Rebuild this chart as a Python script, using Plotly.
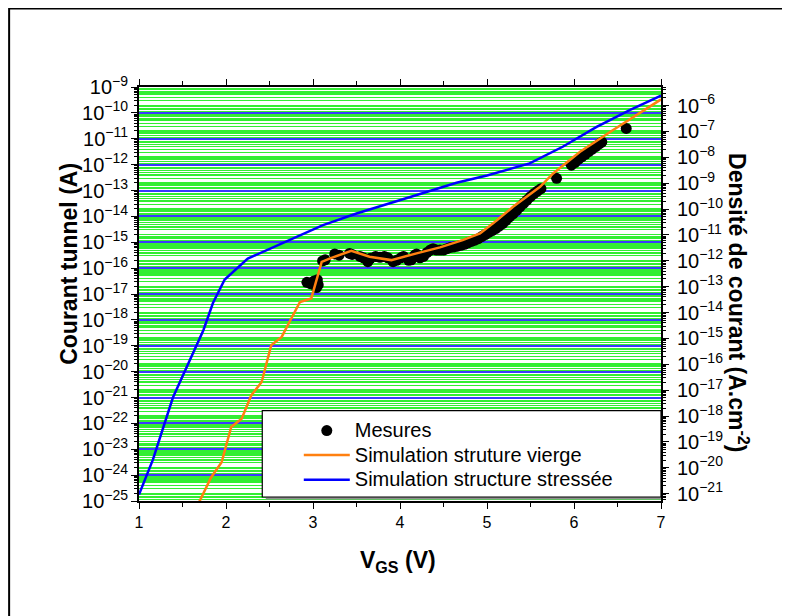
import plotly.graph_objects as go

# ---------------- data (log10 of current in A) ----------------
meas_v = [2.93, 2.97, 3.01, 3.04, 3.05, 3.06,
          3.11, 3.14, 3.25, 3.30, 3.42, 3.45, 3.54, 3.58, 3.63, 3.66, 3.72, 3.77,
          3.82, 3.86, 3.92, 3.96, 4.01, 4.04, 4.10, 4.13, 4.17, 4.19, 4.23, 4.27,
          4.31, 4.35, 4.38, 4.42, 4.46, 4.50, 4.54, 4.58, 4.62, 4.66, 4.70, 4.74,
          4.78, 4.82, 4.86, 4.90, 4.94, 4.98, 5.02, 5.06, 5.10, 5.14, 5.18, 5.22,
          5.26, 5.30, 5.34, 5.38, 5.42, 5.46, 5.50, 5.54, 5.58, 5.62,
          5.80, 5.97, 6.01, 6.05, 6.09, 6.13, 6.17, 6.21, 6.25, 6.29, 6.32, 6.60]
meas_log = [-16.55, -16.60, -16.50, -16.75, -16.45, -16.65,
            -15.72, -15.68, -15.45, -15.50, -15.43, -15.47, -15.55, -15.60, -15.75, -15.62, -15.55, -15.58,
            -15.55, -15.60, -15.75, -15.70, -15.60, -15.55, -15.70, -15.68, -15.50, -15.45, -15.60, -15.55,
            -15.40, -15.30, -15.25, -15.30, -15.30, -15.30, -15.25, -15.20, -15.18, -15.15, -15.12, -15.08,
            -15.02, -14.97, -14.92, -14.86, -14.78, -14.70, -14.62, -14.55, -14.47, -14.38, -14.28, -14.15,
            -14.02, -13.90, -13.77, -13.63, -13.50, -13.37, -13.24, -13.12, -13.02, -12.93,
            -12.53, -12.02, -11.92, -11.80, -11.70, -11.60, -11.50, -11.40, -11.30, -11.20, -11.13, -10.60]

vierge_v = [1.66, 1.83, 1.95, 2.06, 2.18, 2.29, 2.41, 2.52, 2.64, 2.85, 2.98, 3.10, 3.19,
            3.31, 3.44, 3.65, 3.90, 4.19, 4.46, 4.72, 4.92, 5.07, 5.24, 5.30, 5.61, 5.76,
            6.07, 6.45, 7.00]
vierge_log = [-25.26, -24.08, -23.50, -22.14, -21.82, -20.92, -20.40, -18.98, -18.66, -17.31,
              -17.17, -15.76, -15.63, -15.50, -15.33, -15.56, -15.69, -15.43, -15.20, -14.92,
              -14.66, -14.27, -13.79, -13.63, -12.86, -12.34, -11.50, -10.66, -9.48]

stress_v = [1.00, 1.16, 1.39, 1.58, 1.74, 1.85, 1.985, 2.25, 2.73, 3.115, 3.50, 3.88, 4.26,
            4.65, 5.00, 5.24, 5.49, 5.87, 6.26, 6.64, 7.00]
stress_log = [-24.75, -23.40, -21.00, -19.60, -18.40, -17.35, -16.44, -15.63, -14.92, -14.34,
              -13.89, -13.50, -13.11, -12.70, -12.42, -12.20, -11.95, -11.31, -10.54, -9.89, -9.33]

x_ticks = [1, 2, 3, 4, 5, 6, 7]
y_range_log = [-25, -9]
density_offset = 3.717  # log10 ratio between current density (A.cm-2) and current (A)

meas_i = [10 ** v for v in meas_log]
vierge_i = [10 ** v for v in vierge_log]
stress_i = [10 ** v for v in stress_log]
stress_density = [10 ** (v + density_offset) for v in stress_log]

FONT = "Liberation Sans, Arial, sans-serif"
GREEN = "#33ee33"
BLUE_GRID = "#3a3aff"
LEG = '<span style="font-size:20px">%s</span>'

fig = go.Figure()
fig.add_trace(go.Scatter(x=meas_v, y=meas_i, mode="markers", name=LEG % "Mesures",
                         marker=dict(color="black", size=11)))
fig.add_trace(go.Scatter(x=vierge_v, y=vierge_i, mode="lines", name=LEG % "Simulation struture vierge",
                         line=dict(color="#ff8010", width=2.5)))
fig.add_trace(go.Scatter(x=stress_v, y=stress_i, mode="lines", name=LEG % "Simulation structure stressée",
                         line=dict(color="#0000ff", width=2.5)))
# same curve expressed as current density on the right axis (invisible, keeps y2 active)
fig.add_trace(go.Scatter(x=stress_v, y=stress_density, mode="lines", yaxis="y2", showlegend=False,
                         hoverinfo="skip", opacity=0, line=dict(color="#0000ff", width=0.1)))

OFF = 8  # page body margin
W, H = 790, 616
# plot area in screenshot pixels
SL, SR, ST, SB = 139.3, 661.0, 87.0, 500.7
L, T = SL - OFF, ST - OFF
R = W - (SR - OFF)
B = H - (SB - OFF)
pw, ph = SR - SL, SB - ST


def px(x):
    return (x - SL) / pw


def py(y):
    return (SB - y) / ph


fig.update_layout(
    width=W, height=H,
    margin=dict(l=L, r=R, t=T, b=B, pad=0),
    paper_bgcolor="white", plot_bgcolor="white",
    font=dict(family=FONT, color="black", size=16),
    showlegend=True,
    legend=dict(x=px(299), y=py(413), xanchor="left", yanchor="top",
                bgcolor="rgba(0,0,0,0)", borderwidth=0, itemwidth=46,
                font=dict(family=FONT, size=16.6, color="black")),
    xaxis=dict(range=[1, 7], tickvals=x_ticks, showgrid=False, zeroline=False,
               showline=True, linecolor="black", linewidth=1.5, mirror="ticks",
               ticks="outside", ticklen=6, tickwidth=1.2, tickcolor="black",
               tickfont=dict(size=16),
               minor=dict(dtick=0.5, ticks="outside", ticklen=4, tickcolor="black", showgrid=False)),
    yaxis=dict(type="log", range=y_range_log, dtick=1, exponentformat="power",
               showgrid=True, gridcolor=BLUE_GRID, gridwidth=1.5, zeroline=False,
               showline=True, linecolor="black", linewidth=1.5,
               ticks="outside", ticklen=6, tickwidth=1.2, tickcolor="black",
               tickfont=dict(size=16),
               minor=dict(dtick="D1", ticks="outside", ticklen=3, tickcolor="black",
                          showgrid=True, gridcolor=GREEN, gridwidth=1)),
    yaxis2=dict(type="log", overlaying="y", side="right",
                range=[y_range_log[0] + density_offset, y_range_log[1] + density_offset],
                dtick=1, exponentformat="power",
                showgrid=True, gridcolor=GREEN, gridwidth=1, zeroline=False,
                showline=True, linecolor="black", linewidth=1.5,
                ticks="outside", ticklen=6, tickwidth=1.2, tickcolor="black",
                ticklabelstandoff=5, tickfont=dict(size=16),
                minor=dict(dtick="D1", ticks="outside", ticklen=3, tickcolor="black",
                           showgrid=True, gridcolor=GREEN, gridwidth=1)),
    shapes=[
        dict(type="rect", xref="paper", yref="paper", x0=px(9.5), x1=px(797), y0=py(623), y1=py(8.5),
             line=dict(color="black", width=2), fillcolor="rgba(0,0,0,0)", layer="below"),
        dict(type="rect", xref="paper", yref="paper", x0=px(266), x1=1.0, y0=py(499.2), y1=py(496.7),
             line=dict(width=0), fillcolor="#909090", layer="above"),
        dict(type="rect", xref="paper", yref="paper", x0=px(262.5), x1=1.0, y0=py(496.7), y1=py(410.3),
             line=dict(color="black", width=1.2), fillcolor="white", layer="above"),
    ],
    annotations=[
        dict(text="<b>Courant tunnel (A)</b>", xref="paper", yref="paper", x=px(69), y=py(264),
             textangle=-90, showarrow=False, font=dict(size=23), xanchor="center", yanchor="middle"),
        dict(text="<b>Densité de courant (A.cm<sup>-2</sup>)</b>", xref="paper", yref="paper",
             x=px(738), y=py(302), textangle=90, showarrow=False, font=dict(size=23),
             xanchor="center", yanchor="middle"),
        dict(text="<b>V<sub>GS</sub> (V)</b>", xref="paper", yref="paper", x=px(398), y=py(561),
             showarrow=False, font=dict(size=23), xanchor="center", yanchor="middle"),
    ],
)

fig.write_html("out.html")
